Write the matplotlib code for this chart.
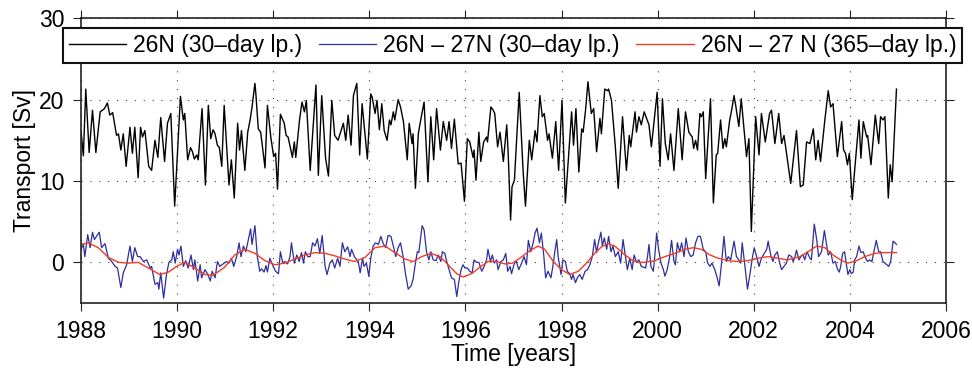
import matplotlib.pyplot as plt

plt.rcParams['font.family'] = ['Liberation Sans', 'DejaVu Sans']

# 26N, 30-day low-pass (time in years, transport in Sv)
black_t = [
    1988.00, 1988.05, 1988.10, 1988.17, 1988.24, 1988.31, 1988.40, 1988.49, 1988.55, 1988.60, 1988.66, 1988.74, 1988.78, 1988.83, 1988.88, 1988.94,
    1989.02, 1989.07, 1989.12, 1989.19, 1989.24, 1989.28, 1989.33, 1989.41, 1989.47, 1989.54, 1989.60, 1989.66, 1989.74, 1989.80, 1989.87, 1989.95,
    1990.07, 1990.13, 1990.16, 1990.22, 1990.28, 1990.32, 1990.36, 1990.41, 1990.44, 1990.52, 1990.59, 1990.65, 1990.70, 1990.75, 1990.79, 1990.84, 1990.88, 1990.93, 1990.98,
    1991.08, 1991.13, 1991.19, 1991.26, 1991.30, 1991.34, 1991.41, 1991.47, 1991.52, 1991.56, 1991.62, 1991.64, 1991.69, 1991.74, 1991.83, 1991.88, 1991.95,
    1992.01, 1992.05, 1992.09, 1992.15, 1992.23, 1992.27, 1992.31, 1992.40, 1992.44, 1992.47, 1992.55, 1992.60, 1992.65, 1992.69, 1992.77, 1992.89, 1992.94,
    1993.01, 1993.09, 1993.15, 1993.22, 1993.28, 1993.35, 1993.46, 1993.51, 1993.56, 1993.62, 1993.67, 1993.74, 1993.80, 1993.85, 1993.96,
    1994.03, 1994.06, 1994.12, 1994.16, 1994.21, 1994.26, 1994.31, 1994.37, 1994.42, 1994.45, 1994.50, 1994.53, 1994.60, 1994.65, 1994.71, 1994.79, 1994.83, 1994.89, 1994.91, 1994.96,
    1995.02, 1995.07, 1995.14, 1995.22, 1995.28, 1995.34, 1995.40, 1995.48, 1995.54, 1995.61, 1995.66, 1995.71, 1995.77, 1995.85, 1995.91, 1995.98,
    1996.04, 1996.09, 1996.16, 1996.18, 1996.22, 1996.28, 1996.32, 1996.38, 1996.44, 1996.46, 1996.53, 1996.58, 1996.61, 1996.67, 1996.72, 1996.79, 1996.86, 1996.89, 1996.94, 1996.97,
    1997.02, 1997.12, 1997.20, 1997.25, 1997.33, 1997.38, 1997.45, 1997.49, 1997.55, 1997.60, 1997.64, 1997.71, 1997.74, 1997.81, 1997.88, 1997.94,
    1998.01, 1998.08, 1998.15, 1998.21, 1998.25, 1998.30, 1998.36, 1998.42, 1998.45, 1998.50, 1998.55, 1998.62, 1998.67, 1998.73, 1998.80, 1998.83, 1998.90, 1998.96, 1998.98,
    1999.04, 1999.12, 1999.18, 1999.27, 1999.35, 1999.41, 1999.44, 1999.53, 1999.56, 1999.61, 1999.66, 1999.72, 1999.77, 1999.82, 1999.87, 1999.99,
    2000.05, 2000.10, 2000.16, 2000.22, 2000.27, 2000.34, 2000.43, 2000.51, 2000.58, 2000.65, 2000.72, 2000.75, 2000.79, 2000.83, 2000.88, 2000.91, 2000.95,
    2001.00, 2001.10, 2001.16, 2001.22, 2001.25, 2001.31, 2001.36, 2001.40, 2001.43, 2001.50, 2001.54, 2001.59, 2001.63, 2001.69, 2001.74, 2001.85, 2001.90, 2001.95,
    2002.04, 2002.11, 2002.16, 2002.24, 2002.33, 2002.37, 2002.44, 2002.52, 2002.58, 2002.63, 2002.77, 2002.89, 2002.97,
    2003.03, 2003.10, 2003.17, 2003.24, 2003.29, 2003.34, 2003.39, 2003.48, 2003.55, 2003.60, 2003.65, 2003.74, 2003.83, 2003.87, 2003.91, 2003.95, 2003.99,
    2004.05, 2004.10, 2004.19, 2004.23, 2004.28, 2004.35, 2004.37, 2004.44, 2004.53, 2004.60, 2004.64, 2004.69, 2004.73, 2004.80, 2004.84, 2004.88, 2004.97,
]
black_v = [
    16.2, 13.1, 21.3, 13.5, 18.7, 13.5, 18.5, 18.9, 19.6, 18.1, 18.4, 15.6, 15.8, 13.8, 15.8, 11.8,
    16.6, 13.4, 16.6, 10.4, 16.6, 15.4, 16.2, 11.8, 11.3, 15.0, 12.9, 17.8, 12.4, 17.1, 18.3, 6.9,
    20.4, 17.5, 18.3, 12.6, 14.1, 13.6, 12.7, 13.2, 12.6, 18.9, 9.5, 19.3, 15.2, 16.3, 15.8, 14.4, 14.1, 11.8, 19.3,
    9.5, 12.6, 7.9, 17.1, 13.8, 16.2, 11.3, 16.0, 17.5, 19.1, 22.0, 20.7, 16.4, 16.0, 11.6, 19.3, 15.4,
    13.0, 13.4, 9.0, 18.2, 17.1, 15.6, 15.4, 12.9, 14.8, 12.9, 17.6, 19.7, 18.5, 19.9, 11.3, 21.8, 10.7,
    20.5, 12.8, 10.6, 19.9, 15.6, 15.0, 17.1, 15.0, 18.1, 14.4, 20.5, 22.0, 13.2, 19.5, 12.7,
    20.7, 20.3, 18.3, 19.9, 16.3, 19.5, 16.2, 15.0, 17.5, 16.9, 18.5, 17.5, 20.0, 19.1, 17.3, 12.6, 17.1, 14.6, 15.8, 9.1,
    15.8, 17.5, 19.7, 9.9, 17.9, 12.6, 18.9, 13.8, 17.3, 15.0, 17.3, 14.0, 17.6, 12.1, 12.2, 7.5,
    15.2, 14.8, 12.9, 13.8, 10.1, 16.0, 12.4, 14.8, 15.4, 14.8, 19.1, 18.7, 18.3, 14.2, 16.0, 12.4, 16.9, 13.4, 5.2, 9.3,
    10.1, 20.9, 11.3, 6.9, 15.0, 12.6, 16.2, 14.8, 20.5, 17.9, 18.3, 15.0, 15.8, 12.8, 17.3, 11.3,
    19.9, 7.3, 13.4, 18.5, 14.4, 18.9, 11.1, 16.4, 16.0, 18.7, 22.2, 18.3, 18.9, 13.6, 17.7, 15.8, 21.3, 21.1, 21.3,
    19.9, 14.2, 9.1, 17.9, 11.3, 15.6, 14.2, 18.5, 16.0, 17.9, 16.9, 18.5, 17.7, 16.9, 14.2, 20.9,
    11.8, 20.1, 14.6, 12.6, 15.8, 11.3, 18.9, 12.6, 18.5, 16.0, 15.4, 14.0, 15.0, 13.8, 18.3, 17.9, 18.5,
    10.3, 20.1, 7.3, 13.2, 13.4, 17.5, 14.0, 15.2, 14.2, 17.5, 18.7, 20.5, 19.1, 16.7, 20.1, 13.0, 15.2, 3.8,
    17.9, 13.2, 18.3, 14.8, 18.3, 18.7, 14.6, 18.3, 14.6, 15.6, 9.7, 16.2, 9.3,
    9.5, 14.8, 14.6, 16.4, 12.6, 15.0, 12.4, 17.5, 21.1, 19.1, 19.5, 13.0, 17.3, 13.8, 13.4, 12.0, 13.4,
    7.7, 11.3, 17.5, 12.8, 17.3, 15.4, 15.6, 12.0, 18.1, 14.6, 17.9, 17.5, 17.9, 7.9, 12.0, 9.9, 21.3,
]

# 26N - 27N, 30-day low-pass
blue_t = [
    1988.00, 1988.05, 1988.08, 1988.14, 1988.19, 1988.24, 1988.28, 1988.38, 1988.43, 1988.50, 1988.57, 1988.64, 1988.71, 1988.76, 1988.83, 1988.88, 1988.95,
    1989.02, 1989.07, 1989.12, 1989.18, 1989.23, 1989.30, 1989.37, 1989.44, 1989.47, 1989.54, 1989.60, 1989.62, 1989.66, 1989.72, 1989.78, 1989.83, 1989.89, 1989.92, 1989.96,
    1990.01, 1990.04, 1990.08, 1990.13, 1990.18, 1990.23, 1990.29, 1990.34, 1990.37, 1990.43, 1990.48, 1990.51, 1990.58, 1990.64, 1990.69, 1990.73, 1990.79, 1990.84, 1990.89, 1990.98,
    1991.03, 1991.08, 1991.13, 1991.18, 1991.24, 1991.29, 1991.33, 1991.38, 1991.43, 1991.47, 1991.53, 1991.56, 1991.62, 1991.67, 1991.72, 1991.76, 1991.81, 1991.85, 1991.88, 1991.93,
    1992.00, 1992.05, 1992.11, 1992.15, 1992.20, 1992.24, 1992.30, 1992.35, 1992.38, 1992.44, 1992.49, 1992.54, 1992.59, 1992.63, 1992.67, 1992.72, 1992.77, 1992.82, 1992.87, 1992.92, 1992.97,
    1993.02, 1993.08, 1993.12, 1993.18, 1993.23, 1993.28, 1993.34, 1993.39, 1993.44, 1993.49, 1993.55, 1993.60, 1993.63, 1993.69, 1993.74, 1993.77, 1993.81, 1993.86, 1993.89, 1993.94, 1993.99,
    1994.03, 1994.08, 1994.13, 1994.19, 1994.24, 1994.29, 1994.34, 1994.39, 1994.45, 1994.50, 1994.55, 1994.60, 1994.65, 1994.71, 1994.75, 1994.81, 1994.87, 1994.91, 1994.96,
    1995.00, 1995.03, 1995.10, 1995.14, 1995.19, 1995.24, 1995.28, 1995.33, 1995.39, 1995.43, 1995.49, 1995.52, 1995.57, 1995.62, 1995.66, 1995.71, 1995.77, 1995.82, 1995.86, 1995.91, 1995.95, 1995.99,
    1996.04, 1996.09, 1996.14, 1996.18, 1996.23, 1996.28, 1996.34, 1996.39, 1996.44, 1996.47, 1996.52, 1996.56, 1996.60, 1996.65, 1996.68, 1996.74, 1996.79, 1996.84, 1996.88, 1996.93, 1996.96,
    1997.02, 1997.06, 1997.11, 1997.17, 1997.22, 1997.27, 1997.31, 1997.36, 1997.41, 1997.45, 1997.49, 1997.54, 1997.58, 1997.63, 1997.67, 1997.72, 1997.78, 1997.83, 1997.86, 1997.90, 1997.93, 1997.99,
    1998.03, 1998.08, 1998.12, 1998.17, 1998.21, 1998.24, 1998.29, 1998.33, 1998.38, 1998.43, 1998.49, 1998.54, 1998.59, 1998.64, 1998.69, 1998.73, 1998.76, 1998.82, 1998.85, 1998.89, 1998.94, 1998.98,
    1999.03, 1999.07, 1999.12, 1999.18, 1999.23, 1999.28, 1999.33, 1999.37, 1999.42, 1999.47, 1999.51, 1999.56, 1999.61, 1999.66, 1999.75, 1999.79, 1999.82, 1999.86, 1999.91, 1999.94, 1999.98,
    2000.02, 2000.07, 2000.12, 2000.15, 2000.20, 2000.25, 2000.29, 2000.34, 2000.37, 2000.41, 2000.46, 2000.50, 2000.55, 2000.59, 2000.64, 2000.69, 2000.74, 2000.79, 2000.84, 2000.89, 2000.95,
    2001.00, 2001.04, 2001.09, 2001.13, 2001.19, 2001.24, 2001.28, 2001.33, 2001.38, 2001.43, 2001.47, 2001.52, 2001.56, 2001.59, 2001.64, 2001.69, 2001.73, 2001.76, 2001.81, 2001.87, 2001.92, 2001.97,
    2002.01, 2002.06, 2002.11, 2002.16, 2002.22, 2002.27, 2002.30, 2002.36, 2002.40, 2002.44, 2002.49, 2002.54, 2002.58, 2002.63, 2002.68, 2002.73, 2002.79, 2002.82, 2002.85, 2002.89, 2002.94, 2002.98,
    2003.03, 2003.06, 2003.11, 2003.17, 2003.20, 2003.26, 2003.31, 2003.35, 2003.41, 2003.47, 2003.51, 2003.55, 2003.60, 2003.65, 2003.70, 2003.74, 2003.78, 2003.81, 2003.85, 2003.89, 2003.93, 2003.96,
    2004.00, 2004.03, 2004.07, 2004.10, 2004.14, 2004.19, 2004.23, 2004.28, 2004.31, 2004.37, 2004.41, 2004.46, 2004.50, 2004.55, 2004.60, 2004.64, 2004.69, 2004.73, 2004.77, 2004.81, 2004.85, 2004.90, 2004.94, 2004.97,
]
blue_v = [
    1.6, 2.2, 0.7, 3.4, 1.8, 3.7, 2.8, 3.7, 1.8, 2.3, 0.5, 0.1, -0.5, -0.7, -3.1, -1.3, -0.3,
    2.0, 0.1, 1.8, 0.7, 0.7, 0.1, 0.3, -0.7, -0.5, -2.7, -2.5, -3.3, -1.3, -4.4, -1.5, 0.0, 0.3, 1.3, -0.1,
    1.6, 0.9, 2.0, -0.5, 0.2, -0.7, 0.9, -0.9, 0.3, -2.3, -0.3, -1.9, -0.9, -1.5, -2.3, -1.1, -1.9, 0.1, -0.5, -0.1,
    0.1, -0.1, 0.5, -0.5, 0.7, 2.4, 0.7, 2.0, 1.3, 2.4, 4.1, 2.2, 4.5, 0.7, -1.1, -0.8, -1.2, -0.4, -1.2, 0.5,
    -0.5, -1.1, -1.4, 1.3, -0.1, 0.1, -0.2, 0.7, 2.4, -0.1, 0.9, 0.1, 1.2, -0.1, 1.3, 0.7, 0.7, 2.4, 2.0, 2.9, 1.1,
    3.3, -0.5, -1.5, -0.1, 0.3, -0.7, 0.5, -0.5, 2.4, 1.3, 1.9, 0.7, 1.6, 0.7, 0.3, 0.1, -1.3, 0.5, -0.5, -0.1, -1.7,
    0.5, 2.0, 2.4, 2.2, 3.2, 2.3, 1.8, 3.3, 3.2, 2.0, 0.7, 1.8, 2.4, 0.5, -1.3, -3.3, -2.9, -2.1, -0.1,
    1.3, 1.2, 4.5, 4.0, 1.3, 0.3, 1.3, 0.3, 0.2, 0.9, 0.1, 1.3, 1.1, -0.1, -0.9, -1.9, -2.1, -4.2, -2.5, -0.9, -0.3, -0.7,
    -0.7, -1.1, -1.3, 0.3, 0.0, 0.0, -1.1, -0.5, 0.3, 1.6, 0.1, 0.9, -0.1, 0.3, -0.9, 0.1, 0.3, 1.1, -1.1, -0.5, -1.4,
    -0.1, 0.1, -0.9, -0.1, 0.7, -0.3, 2.7, 1.3, 2.4, 3.6, 4.2, 2.4, 3.6, 0.9, -1.9, -1.1, -1.9, -0.1, 1.3, 2.8, 0.7, -1.5,
    0.3, 0.1, -1.1, -1.4, -2.1, -1.5, -2.5, -1.9, -1.5, -2.1, -1.1, -0.9, -0.3, 0.7, 2.8, 1.2, 2.2, 3.7, 2.0, 3.0, 1.6, 3.2,
    1.3, 2.0, 0.7, 1.3, -0.1, 2.8, 0.7, -0.9, 0.5, -0.9, 0.9, 0.0, 0.3, -0.5, -0.7, 0.7, 2.2, -0.5, -1.1, 0.7, 3.6,
    1.6, -0.1, -0.9, -1.7, -0.9, 0.7, 2.7, 0.1, -0.3, 2.4, 1.3, 2.4, 0.7, 3.0, 1.3, 0.7, 0.9, 2.4, 3.2, 3.2, 1.6,
    1.3, -0.1, -0.5, -0.1, -0.9, -1.9, -2.9, -0.1, 3.2, 0.1, 0.7, 0.3, 1.6, 2.6, 0.7, 0.3, -0.1, 2.4, -0.1, -3.3, -1.5, 0.5,
    1.8, 0.7, -0.5, 0.5, 1.1, 1.6, 2.6, 0.7, 0.1, 0.9, 1.3, -0.1, -0.9, -0.5, -0.1, 0.9, 0.7, 0.1, 0.5, 1.5, 0.3, 0.7,
    0.9, 0.3, 1.3, 0.5, 0.3, 4.7, 2.8, 0.7, 1.3, 3.9, 2.4, 0.9, 1.3, -0.1, 0.1, -0.8, -1.2, -0.5, 1.1, 1.3, -0.3, -1.5,
    -0.9, -1.4, -1.2, 0.3, 0.7, 2.0, 1.2, 1.3, 0.7, 0.1, 0.3, 0.1, 1.3, 2.7, 1.3, 1.3, 0.1, -0.1, -0.3, -0.5, 0.1, 2.6, 2.4, 2.2,
]

# 26N - 27N, 365-day low-pass
red_t = [
    1988.00, 1988.15, 1988.36, 1988.57, 1988.78, 1988.98, 1989.19, 1989.40, 1989.64, 1989.82, 1989.99,
    1990.16, 1990.37, 1990.58, 1990.75, 1990.99, 1991.20, 1991.41, 1991.62, 1991.83, 1992.04, 1992.24,
    1992.45, 1992.66, 1992.87, 1993.08, 1993.28, 1993.49, 1993.70, 1993.91, 1994.12, 1994.33, 1994.53,
    1994.74, 1994.91, 1995.09, 1995.28, 1995.47, 1995.64, 1995.82, 1995.95, 1996.13, 1996.30, 1996.47,
    1996.65, 1996.82, 1996.98, 1997.13, 1997.31, 1997.51, 1997.65, 1997.83, 1998.00, 1998.17, 1998.35,
    1998.52, 1998.69, 1998.83, 1998.97, 1999.11, 1999.28, 1999.46, 1999.59, 1999.73, 1999.94, 2000.15,
    2000.36, 2000.57, 2000.74, 2000.91, 2001.09, 2001.26, 2001.47, 2001.68, 2001.88, 2002.09, 2002.30,
    2002.51, 2002.70, 2002.96, 2003.13, 2003.31, 2003.48, 2003.65, 2003.83, 2003.96, 2004.14, 2004.31,
    2004.52, 2004.73, 2004.97,
]
red_v = [
    2.2, 2.4, 1.8, 0.6, 0.0, -0.1, 0.0, -0.7, -1.5, -1.2, -0.5,
    0.0, -0.7, -1.5, -1.6, -0.6, 0.9, 1.6, 1.1, 0.2, -0.3, -0.1,
    0.4, 0.9, 1.2, 1.1, 0.8, 0.4, 0.1, 0.6, 1.8, 2.0, 1.2,
    0.4, 0.1, 0.7, 1.1, 0.7, -0.3, -1.4, -1.8, -1.4, -0.6, 0.1,
    0.1, -0.2, -0.1, 0.5, 1.3, 2.0, 1.6, 0.1, -0.9, -1.5, -1.1,
    -0.1, 1.1, 1.9, 2.3, 2.0, 1.1, 0.3, 0.0, 0.0, 0.2, 0.7,
    1.1, 1.6, 1.8, 1.6, 0.9, 0.5, 0.2, 0.1, 0.2, 0.5, 0.7,
    0.5, 0.3, 0.7, 1.3, 2.0, 1.8, 0.9, 0.2, -0.1, 0.2, 0.7,
    1.1, 1.2, 1.2,
]

labels = ['26N (30\u2013day lp.)', '26N \u2013 27N (30\u2013day lp.)',
          '26N \u2013 27 N (365\u2013day lp.)']
years = list(range(1988, 2007, 2))
yticks = [0, 10, 20, 30]

fs = 16.5
fig = plt.figure(figsize=(9.72, 3.69), dpi=100)
ax = fig.add_axes([0.0833, 0.1789, 0.8899, 0.7715])

ax.plot(black_t, black_v, color='black', lw=1.0, label=labels[0])
ax.plot(blue_t, blue_v, color='#2e2e9c', lw=0.9, label=labels[1])
ax.plot(red_t, red_v, color='#f23c22', lw=1.0, label=labels[2])

ax.set_xlim(1988, 2006)
ax.set_ylim(-5, 30)
ax.set_xticks(years)
ax.set_yticks(yticks)
ax.grid(True, linestyle=(0, (1, 7)), color='#444444', lw=0.8)
ax.tick_params(direction='out', length=6, width=0.8, top=True, right=True,
               labelsize=fs, pad=6, color='#222222')
for s in ax.spines.values():
    s.set_linewidth(1.2)
    s.set_color('#222222')

ax.set_xlabel('Time [years]', fontsize=fs, labelpad=0)
ax.set_ylabel('Transport [Sv]', fontsize=fs, labelpad=2)

leg = ax.legend(loc='center', ncol=3, mode='expand', fontsize=fs,
                bbox_to_anchor=(63 / 972, 1 - 63 / 369, 899 / 972, 35 / 369),
                bbox_transform=fig.transFigure, fancybox=False,
                edgecolor='#111111', framealpha=1, borderaxespad=0,
                handlelength=2.5, handletextpad=0.3, columnspacing=0.4,
                borderpad=0.25)
leg.get_frame().set_linewidth(1.5)

fig.savefig('out.png', dpi=100)
